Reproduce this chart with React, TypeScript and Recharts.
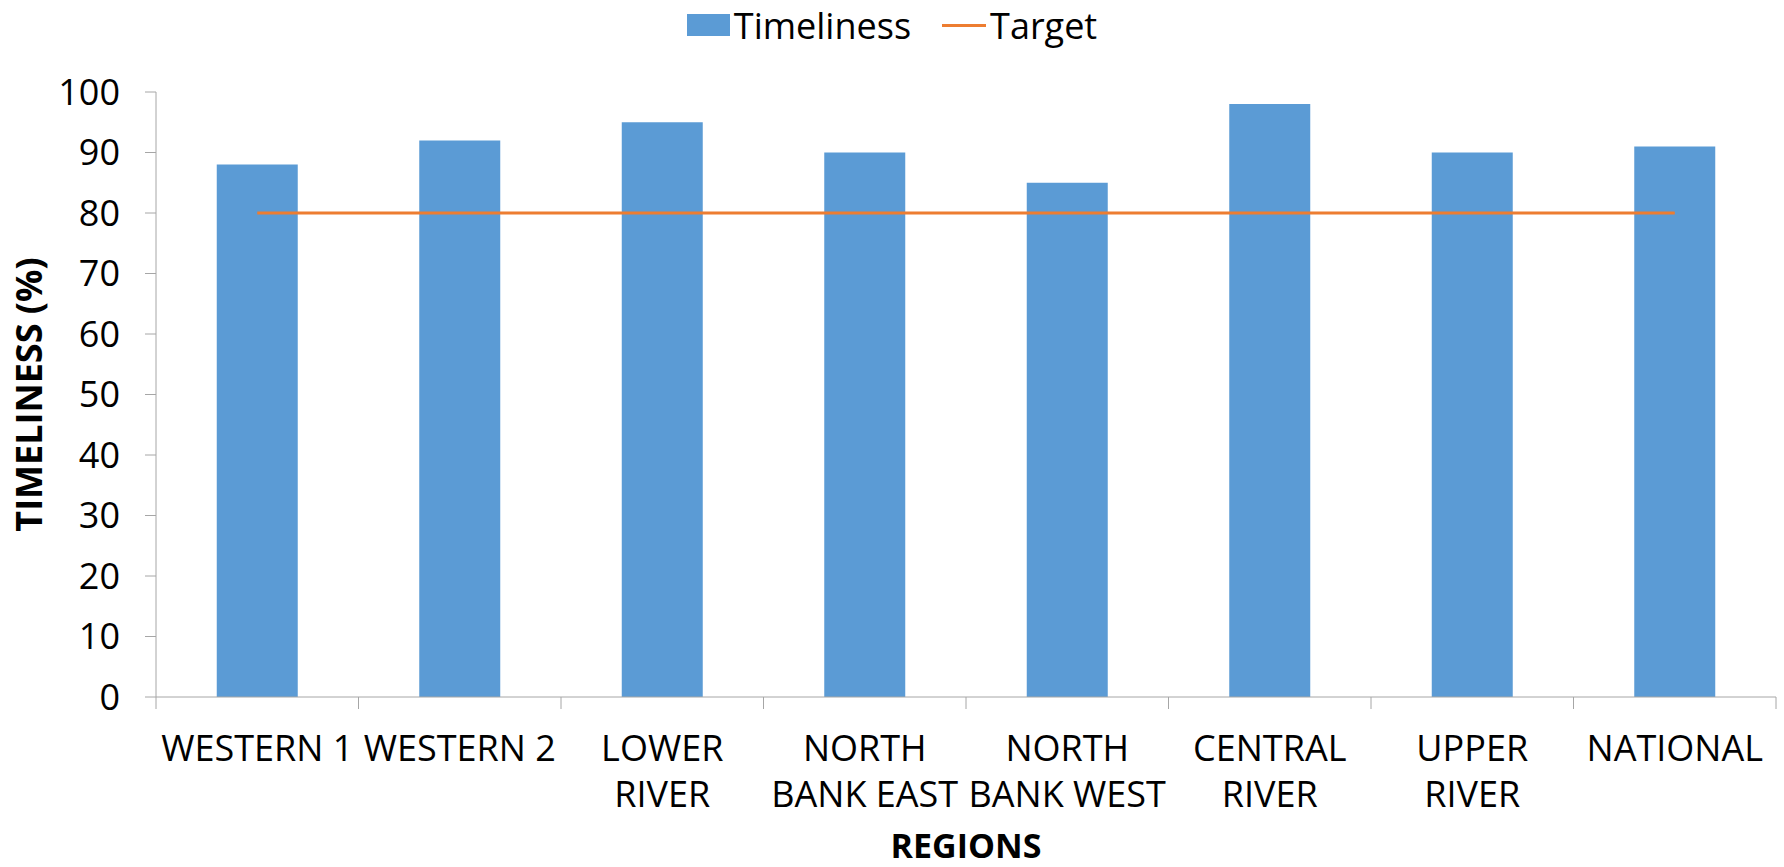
// @ts-nocheck
import React from "react";
import { BarChart, Bar, Line, XAxis, YAxis, Legend } from "recharts";

const regions = [
  "WESTERN 1",
  "WESTERN 2",
  "LOWER\nRIVER",
  "NORTH\nBANK EAST",
  "NORTH\nBANK WEST",
  "CENTRAL\nRIVER",
  "UPPER\nRIVER",
  "NATIONAL",
];
const timeliness = [88, 92, 95, 90, 85, 98, 90, 91];
const target = [80, 80, 80, 80, 80, 80, 80, 80];
const yTicks = [0, 10, 20, 30, 40, 50, 60, 70, 80, 90, 100];

const chartData = regions.map((name, i) => ({
  name,
  timeliness: timeliness[i],
  target: target[i],
}));

const W = 1784;
const H = 867;
const MARGIN = { top: 42, right: 8, bottom: 0, left: 0 };
const Y_AXIS_W = 156;
const X_AXIS_H = 170;
const STEP = (W - MARGIN.left - MARGIN.right - Y_AXIS_W) / regions.length;

const FONT = "'Open Sans', 'Liberation Sans', sans-serif";
const FS = 36;
const BLUE = "#5B9BD5";
const ORANGE = "#ED7D31";
const AXIS = "#A6A6A6";

function RegionTick({ x, y, payload, index }) {
  const lines = String(payload.value).split("\n");
  const half = STEP / 2;
  return (
    <g>
      <line x1={x - half} x2={x - half} y1={y} y2={y + 12} stroke={AXIS} />
      {index === regions.length - 1 && (
        <line x1={x + half} x2={x + half} y1={y} y2={y + 12} stroke={AXIS} />
      )}
      <text x={x} y={y} textAnchor="middle" fontFamily={FONT} fontSize={FS} fill="#000">
        {lines.map((l, i) => (
          <tspan key={i} x={x} dy={i === 0 ? 64 : 46}>
            {l}
          </tspan>
        ))}
      </text>
    </g>
  );
}

function YTitle({ viewBox }) {
  const cx = viewBox.x + 42;
  const cy = viewBox.y + viewBox.height / 2;
  return (
    <text
      x={cx}
      y={cy}
      transform={`rotate(-90, ${cx}, ${cy})`}
      textAnchor="middle"
      fontFamily={FONT}
      fontWeight="bold"
      fontSize={FS}
      fill="#000"
    >
      TIMELINESS (%)
    </text>
  );
}

function XTitle({ viewBox }) {
  return (
    <text
      x={viewBox.x + viewBox.width / 2}
      y={viewBox.y + viewBox.height - 9}
      textAnchor="middle"
      fontFamily={FONT}
      fontWeight="bold"
      fontSize={34}
      fill="#000"
    >
      REGIONS
    </text>
  );
}

function LegendBox() {
  return (
    <div
      style={{
        height: 50,
        display: "flex",
        justifyContent: "center",
        alignItems: "center",
        fontFamily: FONT,
        fontSize: FS,
        color: "#000",
      }}
    >
      <span style={{ width: 43, height: 22, background: BLUE, marginRight: 4 }} />
      <span>Timeliness</span>
      <span style={{ width: 44, height: 3, background: ORANGE, marginLeft: 31, marginRight: 4 }} />
      <span>Target</span>
    </div>
  );
}

export default function App() {
  return (
    <div>
      <style>{"body{margin:0}"}</style>
      <BarChart width={W} height={H} data={chartData} margin={MARGIN} barCategoryGap="30%">
        <Legend
          verticalAlign="top"
          content={<LegendBox />}
          wrapperStyle={{ top: 0, left: 0, width: W }}
        />
        <XAxis
          dataKey="name"
          height={X_AXIS_H}
          interval={0}
          tickLine={false}
          tickSize={0}
          tickMargin={0}
          axisLine={{ stroke: AXIS }}
          tick={<RegionTick />}
          label={<XTitle />}
        />
        <YAxis
          width={Y_AXIS_W}
          domain={[0, 100]}
          ticks={yTicks}
          interval={0}
          tickSize={11}
          tickMargin={25}
          axisLine={{ stroke: AXIS }}
          tickLine={{ stroke: AXIS }}
          tick={{ fill: "#000", fontSize: FS, fontFamily: FONT }}
          label={<YTitle />}
        />
        <Bar dataKey="timeliness" fill={BLUE} isAnimationActive={false} />
        <Line
          dataKey="target"
          stroke={ORANGE}
          strokeWidth={3}
          dot={false}
          activeDot={false}
          legendType="none"
          isAnimationActive={false}
        />
      </BarChart>
    </div>
  );
}
